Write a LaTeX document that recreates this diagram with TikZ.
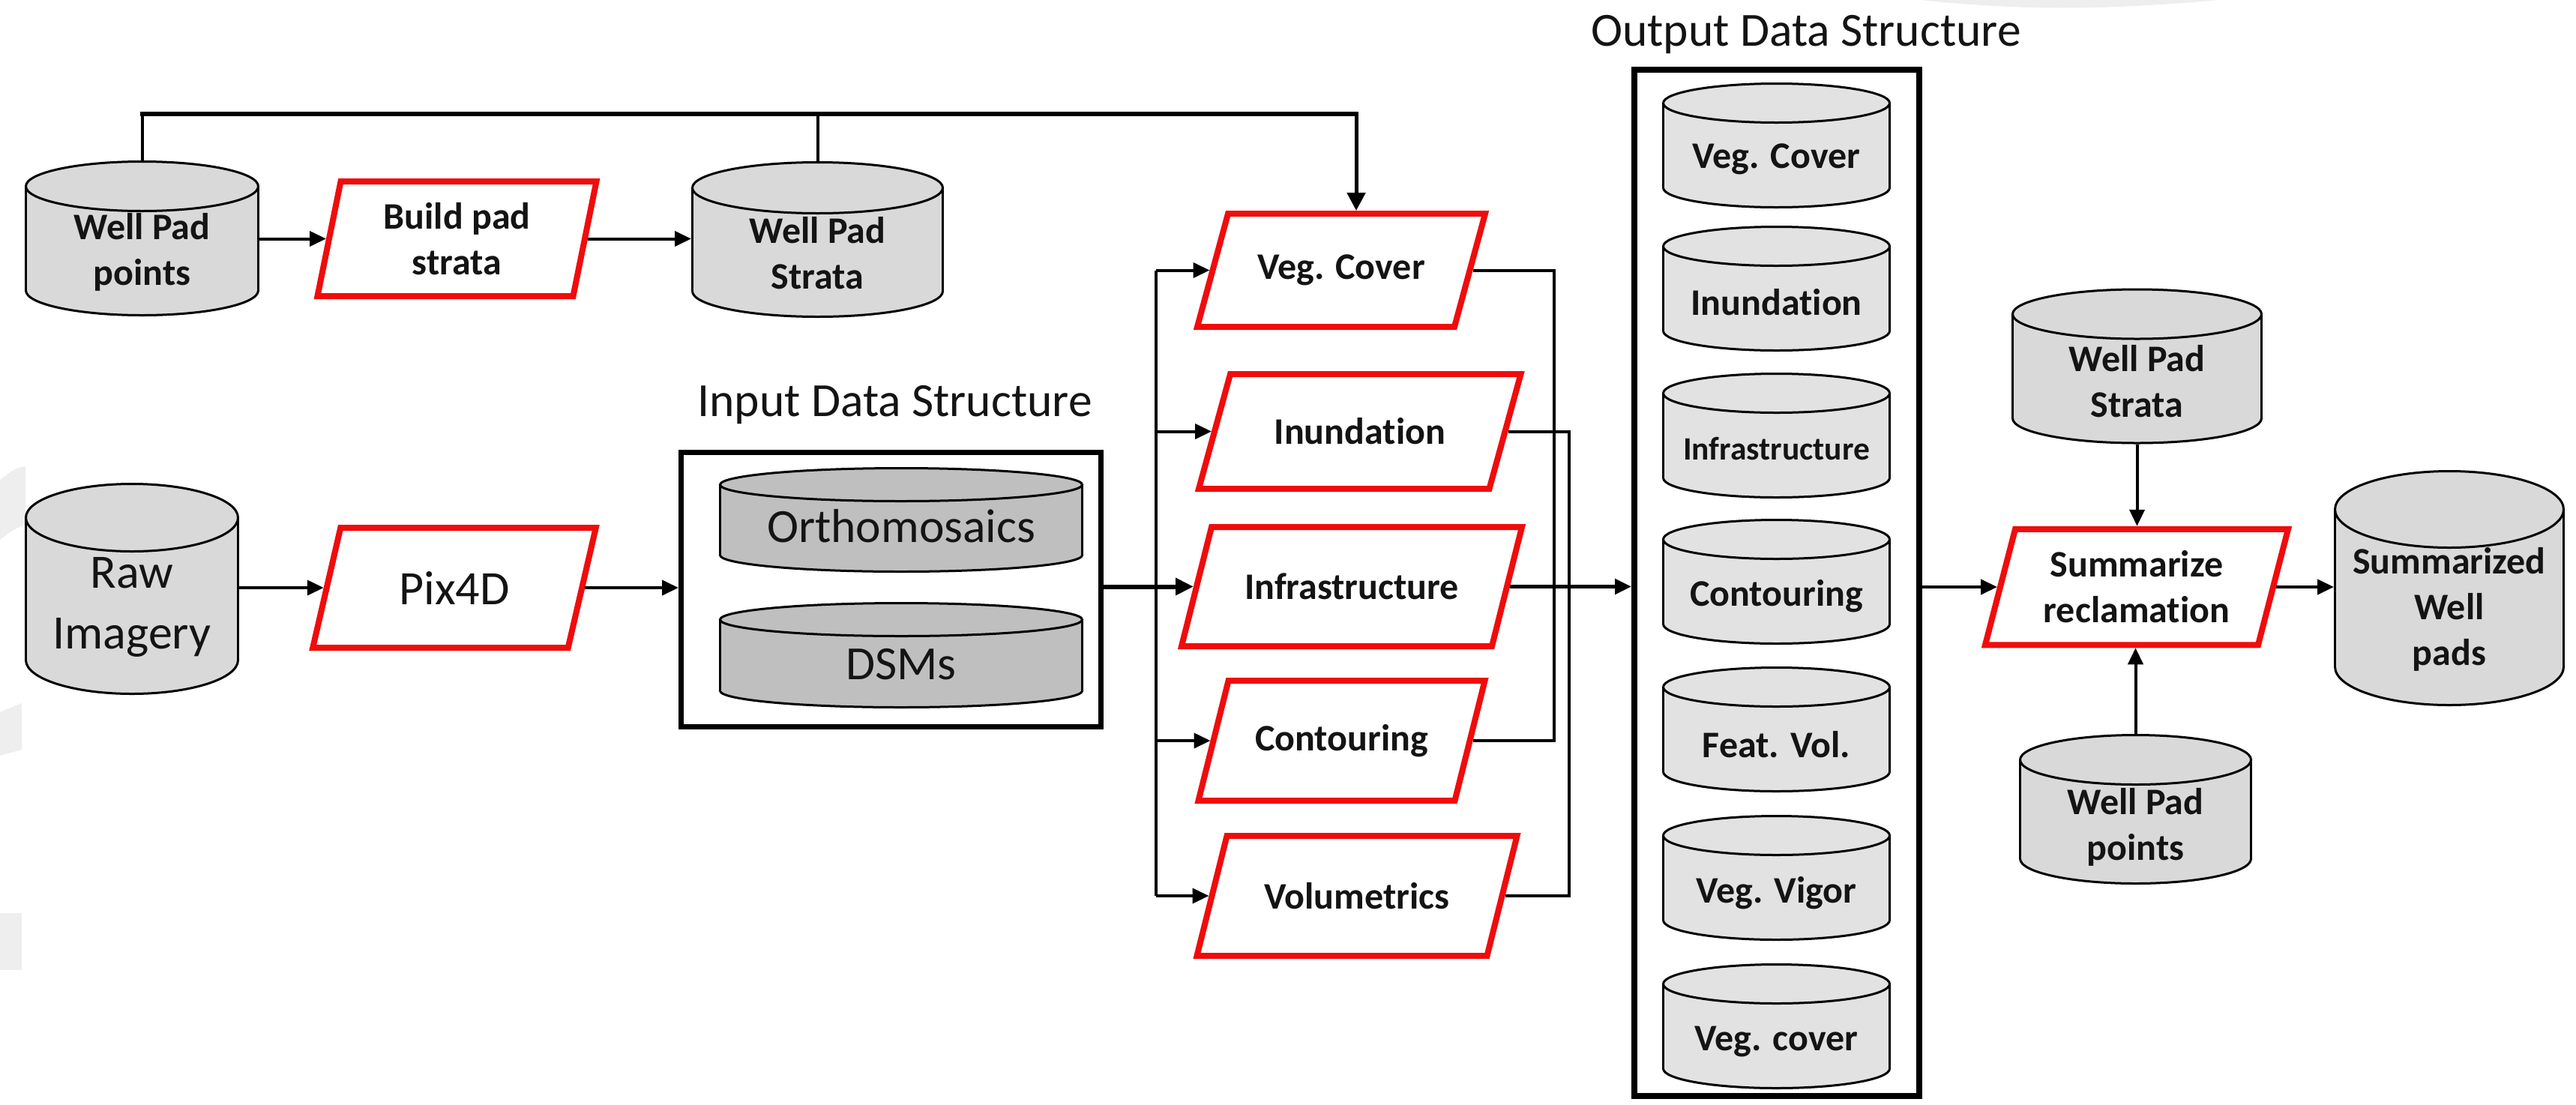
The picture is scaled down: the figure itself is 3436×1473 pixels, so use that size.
\documentclass[tikz,border=0pt]{standalone}
\usepackage{fontspec}
\setmainfont[Ligatures=NoCommon]{Carlito}
\usetikzlibrary{arrows.meta}
\definecolor{redb}{RGB}{240,12,12}
\definecolor{cylfill}{RGB}{217,217,217}
\definecolor{infill}{RGB}{191,191,191}
\definecolor{outfill}{RGB}{226,226,226}
\definecolor{faint}{RGB}{238,238,238}
\definecolor{txt}{RGB}{20,20,20}

% cylinder: name, cx, top, width, height, ry, fill
\newcommand{\cyl}[7]{%
  \filldraw[cylline, fill=#7] (#2,{#3+#5-#6}) ellipse [x radius={#4/2}, y radius=#6];
  \fill[#7] ({#2-#4/2},{#3+#6}) rectangle ({#2+#4/2},{#3+#5-#6});
  \draw[cylline] ({#2-#4/2},{#3+#6}) -- ({#2-#4/2},{#3+#5-#6});
  \draw[cylline] ({#2+#4/2},{#3+#6}) -- ({#2+#4/2},{#3+#5-#6});
  \filldraw[cylline, fill=#7] (#2,{#3+#6}) ellipse [x radius={#4/2}, y radius=#6];
  \node[inner sep=0pt, outer sep=1.5pt, minimum width=#4pt, minimum height=#5pt] (#1) at (#2,{#3+#5/2}) {};
}
% process parallelogram: name, cx, cy, mid width, height, slant, text
\newcommand{\proc}[7]{%
  \draw[procline] ({#2-#4/2+#6/2},{#3-#5/2}) -- ({#2+#4/2+#6/2},{#3-#5/2}) -- ({#2+#4/2-#6/2},{#3+#5/2}) -- ({#2-#4/2-#6/2},{#3+#5/2}) -- cycle;
  \node[procnode, minimum width=#4pt, minimum height=#5pt] (#1) at (#2,#3) {#7};
}

\tikzset{
  cylline/.style={line width=3pt, draw=black},
  procline/.style={line width=8pt, draw=redb, line join=miter},
  procnode/.style={inner sep=0pt, outer sep=4pt, align=center, text=txt, font=\fontsize{50}{61}\selectfont\bfseries},
  cyltext/.style={inner sep=0pt, align=center, text=txt, font=\fontsize{50}{61}\selectfont\bfseries},
  smalltext/.style={inner sep=0pt, align=center, text=txt, font=\fontsize{43.5}{50}\selectfont\bfseries},
  rawtext/.style={inner sep=0pt, align=center, text=txt, font=\fontsize{64}{81}\selectfont},
  intext/.style={inner sep=0pt, align=center, text=txt, font=\fontsize{63.5}{72}\selectfont},
  lbltext/.style={inner sep=0pt, align=center, text=txt, font=\fontsize{63.5}{72}\selectfont},
  tipA/.tip={Triangle[length=22pt, width=20pt]},
  conn/.style={line width=4pt, -tipA},
  conn5/.style={line width=5pt, -tipA},
  thickconn/.style={line width=6pt, -{Triangle[length=24pt, width=22pt]}},
  busline/.style={line width=4pt},
}

\begin{document}
\begin{tikzpicture}[x=1pt,y=-1pt]
\useasboundingbox (0,0) rectangle (3436,1473);
\fill[white] (0,0) rectangle (3436,1473);

% faint background marks
\fill[faint] (0,640) .. controls (20,625) .. (34,622) -- (34,700) .. controls (20,705) .. (0,720) -- cycle;
\fill[faint] (0,950) -- (29,938) -- (29,1000) -- (0,1008) -- cycle;
\fill[faint] (0,1218) -- (29,1218) -- (29,1294) -- (0,1294) -- cycle;
\fill[faint] (2560,0) -- (2960,0) .. controls (2800,14) and (2700,14) .. (2560,0) -- cycle;

% ---------------- top-left chain
\cyl{wpp}{189.5}{215.5}{310}{205}{33}{cylfill}
\node[cyltext] (wppt) at (189.5,336) {Well Pad\\points};
\proc{bp}{609.5}{318.5}{341}{153}{31}{Build pad\\strata}
\cyl{wps}{1090.5}{216.5}{334}{206}{34}{cylfill}
\node[cyltext] (wpst) at (1090.5,337.5) {Well Pad\\Strata};

% ---------------- raw imagery chain
\cyl{raw}{176}{645.5}{283}{280}{45}{cylfill}
\node[rawtext] (rawt) at (176,810) {Raw\\Imagery};
\proc{px}{606}{784}{340.5}{160}{37}{\fontsize{64}{72}\selectfont\mdseries Pix4D}

% ---------------- input data structure
\node[draw, line width=7pt, minimum width=560pt, minimum height=366pt, inner sep=0pt] (ib) at (1188.5,786.5) {};
\node[lbltext] (iblbl) at (1193.6,540) {Input Data Structure};
\cyl{ortho}{1202}{624.5}{483}{138}{22}{infill}
\node[intext] (orthot) at (1202,702) {Orthomosaics};
\cyl{dsm}{1202}{804.5}{483}{139}{22}{infill}
\node[intext] (dsmt) at (1202,886) {DSMs};

% ---------------- processing steps
\proc{vc}{1789}{360.5}{343}{151}{41}{Veg. Cover}
\proc{inu}{1813.75}{575.5}{387.5}{153}{42}{Inundation}
\proc{inf}{1803}{782.5}{414}{159}{40}{Infrastructure}
\proc{co}{1789.5}{988}{342}{160}{40}{Contouring}
\proc{vo}{1810}{1195}{387}{160}{40}{Volumetrics}

% ---------------- output data structure
\node[draw, line width=8pt, minimum width=380pt, minimum height=1369pt, inner sep=0pt] (ob) at (2370,777.5) {};
\node[lbltext] (oblbl) at (2409,46) {Output Data Structure};
\cyl{o1}{2369.5}{111.5}{302}{165}{26}{outfill}
\node[cyltext] (o1t) at (2369.5,212) {Veg. Cover};
\cyl{o2}{2369.5}{302.5}{302}{165}{26}{outfill}
\node[cyltext] (o2t) at (2369.5,403) {Inundation};
\cyl{o3}{2369.5}{498.5}{302}{165}{26}{outfill}
\node[smalltext] (o3t) at (2369.5,599) {Infrastructure};
\cyl{o4}{2369.5}{693.5}{302}{165}{26}{outfill}
\node[cyltext] (o4t) at (2369.5,795) {Contouring};
\cyl{o5}{2369.5}{890.5}{302}{165}{26}{outfill}
\node[cyltext] (o5t) at (2369.5,993) {Feat. Vol.};
\cyl{o6}{2369.5}{1088.5}{302}{165}{26}{outfill}
\node[cyltext] (o6t) at (2369.5,1191) {Veg. Vigor};
\cyl{o7}{2369.5}{1286.5}{302}{165}{26}{outfill}
\node[cyltext] (o7t) at (2369.5,1390) {Veg. cover};

% ---------------- summary
\cyl{rwps}{2850.5}{386}{332}{205}{33}{cylfill}
\node[cyltext] (rwpst) at (2850.5,508.5) {Well Pad\\Strata};
\proc{sr}{2850}{783}{364}{154.5}{40}{Summarize\\reclamation}
\cyl{swp}{3267}{628.5}{305}{312}{51}{cylfill}
\node[cyltext] (swpt) at (3267,813) {Summarized\\Well\\pads};
\cyl{rwpp}{2848.5}{980.5}{308}{198}{33}{cylfill}
\node[cyltext] (rwppt) at (2848.5,1103) {Well Pad\\points};

% ---------------- connectors
\coordinate (tl) at (1809,152);
\draw[line width=6pt, line cap=rect] (wpp.north |- tl) -- (tl);
\draw[line width=4pt] (wpp.north) -- (wpp.north |- tl);
\draw[line width=4pt] (wps.north) -- (wps.north |- tl);
\draw[line width=5pt, -{Triangle[length=24pt, width=24pt]}] (tl) -- (tl |- vc.north);

\draw[conn] (bp.west -| wpp.east) -- (bp.west);
\draw[conn] (bp.east) -- (bp.east -| wps.west);
\draw[conn] (px.west -| raw.east) -- (px.west);
\draw[conn] (px.east) -- (px.east -| ib.west);

\coordinate (bus) at (1542,0);
\draw[busline] (bus |- vc.west) -- (bus |- vo.west);
\draw[conn] (bus |- vc.west) -- (vc.west);
\draw[conn] (bus |- inu.west) -- (inu.west);
\draw[conn] (bus |- co.west) -- (co.west);
\draw[conn] (bus |- vo.west) -- (vo.west);
\draw[thickconn] (inf.west -| ib.east) -- (inf.west);

\coordinate (rb1) at (2073,0);
\coordinate (rb2) at (2093,0);
\draw[busline] (vc.east) -| (rb1 |- co.east) -- (co.east);
\draw[busline] (inu.east) -| (rb2 |- vo.east) -- (vo.east);
\draw[conn5] (inf.east) -- (inf.east -| ob.west);

\draw[conn] (sr.west -| ob.east) -- (sr.west);
\draw[conn] (sr.east) -- (sr.east -| swp.west);
\draw[conn] (rwps.south) -- (rwps.south |- sr.north);
\draw[conn] (rwpp.north) -- (rwpp.north |- sr.south);
\end{tikzpicture}
\end{document}
